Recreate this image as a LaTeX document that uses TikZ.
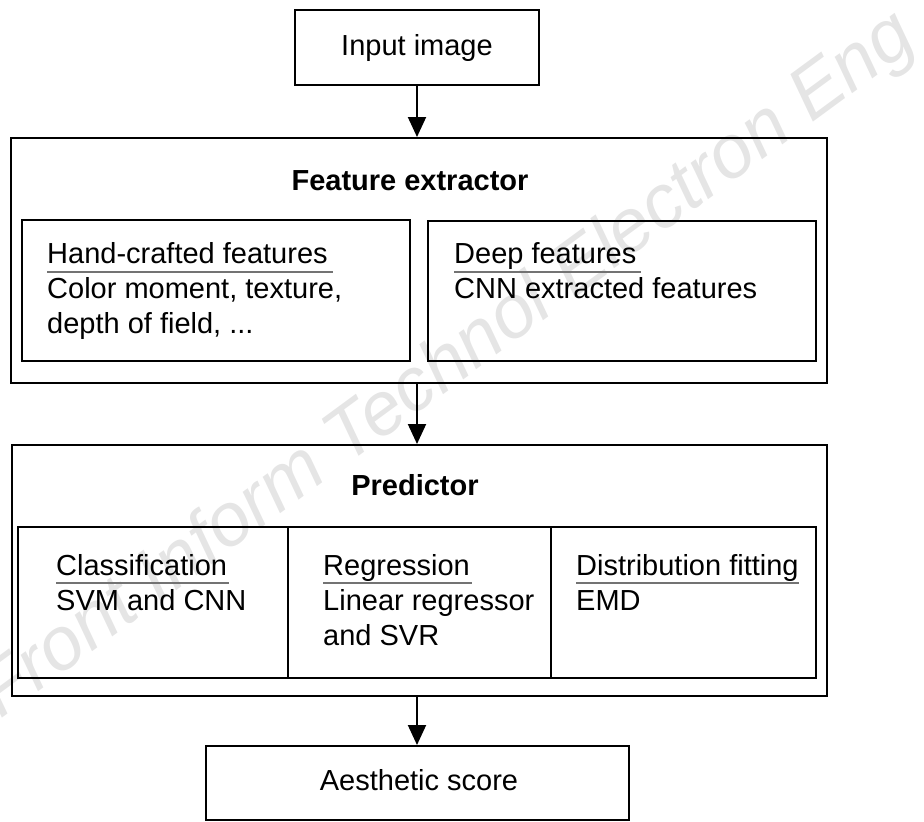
\documentclass[tikz,border=0pt]{standalone}
\usepackage{fontspec}
\setmainfont{Liberation Sans}
\usetikzlibrary{arrows.meta}
\begin{document}
\begin{tikzpicture}[x=1pt,y=-1pt,
  box/.style={draw=black, line width=2pt, inner sep=0pt},
  txt/.style={inner sep=0pt, anchor=base west, font=\fontsize{29}{35}\selectfont},
  ctxt/.style={inner sep=0pt, anchor=base, font=\fontsize{29}{35}\selectfont},
  ttl/.style={inner sep=0pt, anchor=base, font=\fontsize{29}{35}\selectfont\bfseries},
  uline/.style={draw=black!55, line width=2pt},
  flow/.style={draw=black, line width=2pt, -{Triangle[length=20pt,width=18pt]}},
  wmark/.style={inner sep=0pt, anchor=base, text=black!10,
    font=\fontsize{75}{82}\selectfont\itshape}
]
\useasboundingbox (0,0) rectangle (924,822);

% journal mark behind everything
\node[wmark, rotate=36.3] (wm) at (460,382) {Front Inform Technol Electron Eng};

% main blocks
\node[box, minimum width=244pt, minimum height=75pt] (in) at (417,47.5) {};
\node[ctxt] (intxt) at (417,55) {Input image};

\node[box, minimum width=816pt, minimum height=245pt] (fe) at (419,260.5) {};
\node[ttl] (fetitle) at (410,190) {Feature extractor};
\node[box, minimum width=388pt, minimum height=141pt] (hand) at (216,290.5) {};
\node[box, minimum width=388pt, minimum height=140pt] (deep) at (622,291) {};

\node[box, minimum width=815pt, minimum height=251pt] (pr) at (419.5,570.5) {};
\node[ttl] (prtitle) at (415,495) {Predictor};
\node[box, minimum width=270pt, minimum height=151pt] (cls) at (153,602.5) {};
\node[box, minimum width=263pt, minimum height=151pt] (reg) at (419.5,602.5) {};
\node[box, minimum width=265pt, minimum height=151pt] (dist) at (683.5,602.5) {};

\node[box, minimum width=423pt, minimum height=74pt] (out) at (417.5,783) {};
\node[ctxt] (outtxt) at (419,790) {Aesthetic score};

% contents of the feature boxes
\node[txt] (h1) at (47,263) {Hand-crafted features};
\node[txt] (h2) at (47,298) {Color moment, texture,};
\node[txt] (h3) at (47,333) {depth of field, ...};
\draw[uline] ([yshift=-9pt]h1.base west) -- ([yshift=-9pt,xshift=5pt]h1.base east);

\node[txt] (d1) at (454,263) {Deep features};
\node[txt] (d2) at (454,298) {CNN extracted features};
\draw[uline] ([yshift=-9pt]d1.base west) -- ([yshift=-9pt,xshift=4pt]d1.base east);

% contents of the predictor cells
\node[txt] (c1) at (56,575) {Classification};
\node[txt] (c2) at (56,610) {SVM and CNN};
\draw[uline] ([yshift=-8pt]c1.base west) -- ([yshift=-8pt,xshift=2pt]c1.base east);

\node[txt] (r1) at (323,575) {Regression};
\node[txt] (r2) at (323,610) {Linear regressor};
\node[txt] (r3) at (323,645) {and SVR};
\draw[uline] ([yshift=-8pt]r1.base west) -- ([yshift=-8pt,xshift=2pt]r1.base east);

\node[txt] (t1) at (576,575) {Distribution fitting};
\node[txt] (t2) at (576,610) {EMD};
\draw[uline] ([yshift=-8pt]t1.base west) -- ([yshift=-8pt]t1.base east);

% flow arrows
\draw[flow] (in.south) -- (in.south |- fe.north);
\draw[flow] (fe.south -| in.south) -- (in.south |- pr.north);
\draw[flow] (pr.south -| in.south) -- (in.south |- out.north);
\end{tikzpicture}
\end{document}
